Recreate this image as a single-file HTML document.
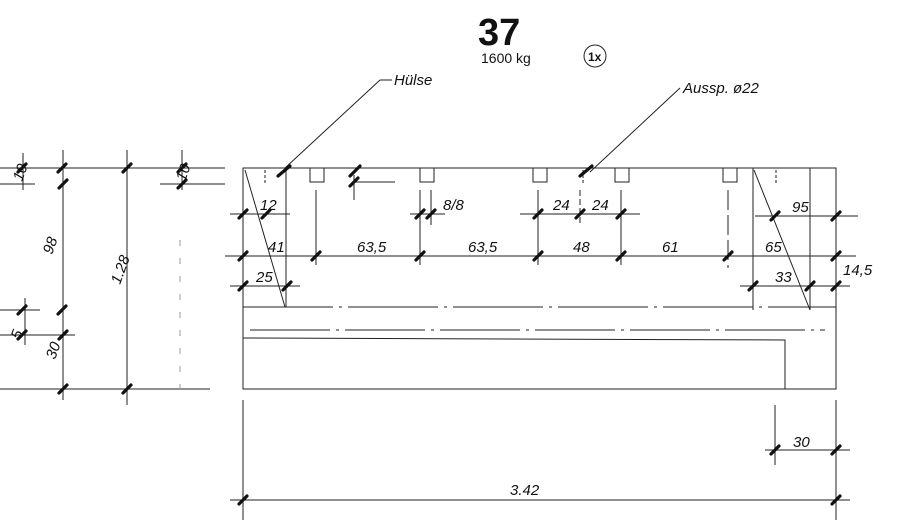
<!DOCTYPE html>
<html><head><meta charset="utf-8"><style>
html,body{margin:0;padding:0;background:#fff;width:900px;height:530px;overflow:hidden}
svg{display:block}
.h{font-family:"Liberation Sans",sans-serif;font-style:italic;font-size:15px;fill:#111}
</style></head><body>
<svg width="900" height="530" viewBox="0 0 900 530" xmlns="http://www.w3.org/2000/svg">
<g stroke="#222" stroke-width="1" fill="none">
<line x1="0" y1="168" x2="225" y2="168"/>
<line x1="0" y1="184" x2="35" y2="184"/>
<line x1="160" y1="184" x2="225" y2="184"/>
<line x1="0" y1="389" x2="210" y2="389"/>
<line x1="0" y1="335" x2="75" y2="335"/>
<line x1="0" y1="310" x2="40" y2="310"/>
<line x1="63" y1="150" x2="63" y2="400"/>
<line x1="23" y1="153" x2="23" y2="190"/>
<line x1="127" y1="150" x2="127" y2="405"/>
<line x1="182" y1="150" x2="182" y2="190"/>
<line x1="25" y1="298" x2="25" y2="345"/>
<line x1="180" y1="240" x2="180" y2="400" stroke-dasharray="6 12" stroke="#999"/>
<rect x="243" y="168" width="593" height="221"/>
<line x1="243" y1="307" x2="836" y2="307" stroke-dasharray="90 6 3 6"/>
<line x1="250" y1="330" x2="825" y2="330" stroke-dasharray="80 6 3 6"/>
<polyline points="243,338 785,340 785,389"/>
<line x1="286" y1="168" x2="286" y2="307"/>
<line x1="245" y1="170" x2="285" y2="307"/>
<line x1="753" y1="168" x2="753" y2="310"/>
<line x1="810" y1="168" x2="810" y2="310"/>
<line x1="754" y1="170" x2="810" y2="310"/>
<rect x="310" y="168" width="14" height="14"/>
<rect x="420" y="168" width="14" height="14"/>
<rect x="533" y="168" width="14" height="14"/>
<rect x="615" y="168" width="14" height="14"/>
<rect x="723" y="168" width="14" height="14"/>
<line x1="265" y1="170" x2="265" y2="185" stroke-dasharray="3 2"/>
<line x1="583" y1="170" x2="583" y2="185" stroke-dasharray="3 2"/>
<line x1="776" y1="170" x2="776" y2="185" stroke-dasharray="3 2"/>
<line x1="316" y1="190" x2="316" y2="265"/>
<line x1="420" y1="190" x2="420" y2="265"/>
<line x1="431" y1="190" x2="431" y2="225"/>
<line x1="538" y1="190" x2="538" y2="265"/>
<line x1="580" y1="190" x2="580" y2="225" stroke-dasharray="6 3"/>
<line x1="621" y1="190" x2="621" y2="265"/>
<line x1="728" y1="190" x2="728" y2="268" stroke-dasharray="20 5"/>
<line x1="354" y1="175" x2="354" y2="200"/>
<line x1="230" y1="214" x2="290" y2="214"/>
<line x1="520" y1="214" x2="640" y2="214"/>
<line x1="755" y1="216" x2="858" y2="216"/>
<line x1="410" y1="214" x2="445" y2="214"/>
<line x1="225" y1="256" x2="856" y2="256"/>
<line x1="230" y1="286" x2="300" y2="286"/>
<line x1="740" y1="286" x2="850" y2="286"/>
<line x1="355" y1="182" x2="395" y2="182"/>
<line x1="243" y1="400" x2="243" y2="520"/>
<line x1="836" y1="400" x2="836" y2="520"/>
<line x1="775" y1="405" x2="775" y2="465"/>
<line x1="230" y1="500" x2="850" y2="500"/>
<line x1="765" y1="450" x2="850" y2="450"/>
<line x1="285" y1="168" x2="380" y2="80"/>
<line x1="380" y1="80" x2="392" y2="80"/>
<line x1="590" y1="172" x2="680" y2="88"/>
<circle cx="595" cy="56" r="11"/>
</g>
<g stroke="#111" stroke-width="3.2" stroke-linecap="round">
<path d="M18 172l8-8M58 172l8-8M59 188l8-8M59 339l8-8M59 393l8-8M123 393l8-8M123 172l8-8M178 172l8-8M178 188l8-8M18 314l8-8M18 339l8-8M58 314l8-8
M239 218l8-8M262 218l8-8M239 260l8-8M312 260l8-8M416 218l8-8M427 218l8-8M416 260l8-8M534 218l8-8M576 218l8-8M617 218l8-8M534 260l8-8M617 260l8-8M724 260l8-8M832 260l8-8M771 220l8-8M832 220l8-8M239 290l8-8M283 290l8-8M749 290l8-8M806 290l8-8M832 290l8-8
M350 176l10-10M350 186l8-8M278 176l12-10M580 176l12-10
M239 504l8-8M832 504l8-8M771 454l8-8M832 454l8-8"/>
</g>
<text x="478" y="45" font-family="Liberation Sans,sans-serif" font-weight="bold" font-size="38" fill="#111">37</text>
<text x="481" y="63" font-family="Liberation Sans,sans-serif" font-size="14" fill="#111">1600 kg</text>
<text x="588" y="61" font-family="Liberation Sans,sans-serif" font-size="12" font-weight="bold" fill="#111">1x</text>
<text class="h" x="394" y="85">Hülse</text>
<text class="h" x="683" y="93">Aussp. ø22</text>
<text class="h" x="260" y="210">12</text>
<text class="h" x="443" y="210">8/8</text>
<text class="h" x="553" y="210">24</text>
<text class="h" x="592" y="210">24</text>
<text class="h" x="792" y="212">95</text>
<text class="h" x="268" y="252">41</text>
<text class="h" x="357" y="252">63,5</text>
<text class="h" x="468" y="252">63,5</text>
<text class="h" x="573" y="252">48</text>
<text class="h" x="662" y="252">61</text>
<text class="h" x="765" y="252">65</text>
<text class="h" x="256" y="282">25</text>
<text class="h" x="775" y="282">33</text>
<text class="h" x="843" y="275">14,5</text>
<text class="h" x="793" y="447">30</text>
<text class="h" x="510" y="495">3.42</text>
<text class="h" transform="translate(22,182) rotate(-70)">10</text>
<text class="h" transform="translate(185,182) rotate(-70)">10</text>
<text class="h" transform="translate(52,255) rotate(-70)">98</text>
<text class="h" transform="translate(120,285) rotate(-70)">1.28</text>
<text class="h" transform="translate(55,360) rotate(-70)">30</text>
<text class="h" transform="translate(20,340) rotate(-70)">5</text>
</svg>
</body></html>
